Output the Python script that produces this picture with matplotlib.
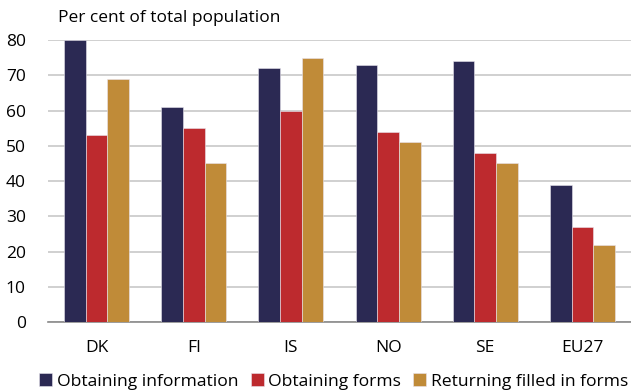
import matplotlib.pyplot as plt
import numpy as np

plt.rcParams['font.family'] = ['Open Sans', 'DejaVu Sans']

countries = ['DK', 'FI', 'IS', 'NO', 'SE', 'EU27']
series_names = ['Obtaining information', 'Obtaining forms', 'Returning filled in forms']
obtaining_info = [80, 61, 72, 73, 74, 39]
obtaining_forms = [53, 55, 60, 54, 48, 27]
returning_forms = [69, 45, 75, 51, 45, 22]
colors = ['#2b2953', '#bd2a2e', '#c08b38']

fig = plt.figure(figsize=(6.31, 3.92), dpi=100)
ax = fig.add_axes([0.076, 0.178, 0.924, 0.72])

x = np.arange(len(countries))
w = 0.223
for k, (vals, name, c) in enumerate(zip([obtaining_info, obtaining_forms, returning_forms],
                                        series_names, colors)):
    ax.bar(x + (k - 1) * w, vals, w, color=c, label=name,
           edgecolor='#e8e4ee', linewidth=0.4, zorder=3)

ax.set_xlim(-0.5, 5.5)
ax.set_ylim(0, 80)
ax.set_yticks(range(0, 81, 10))
ax.set_xticks(x)
ax.set_xticklabels(countries)
ax.yaxis.grid(True, color='#c8c8c8', linewidth=1.2, zorder=0)
ax.tick_params(length=0, labelsize=12.5)
ax.tick_params(axis='x', pad=13)
ax.tick_params(axis='y', pad=16)
for s in ['left', 'right', 'top']:
    ax.spines[s].set_visible(False)
ax.spines['bottom'].set_color('#8a8a8a')
ax.spines['bottom'].set_linewidth(1.2)

fig.text(0.092, 0.955, 'Per cent of total population', fontsize=12.5, va='center')

ax.legend(loc='center', bbox_to_anchor=(0.49, -0.21), ncol=3, frameon=False,
          fontsize=12.6, handlelength=0.75, handleheight=0.75, handletextpad=0.25,
          columnspacing=0.7, borderaxespad=0, borderpad=0)

fig.savefig('out.png', dpi=100)
